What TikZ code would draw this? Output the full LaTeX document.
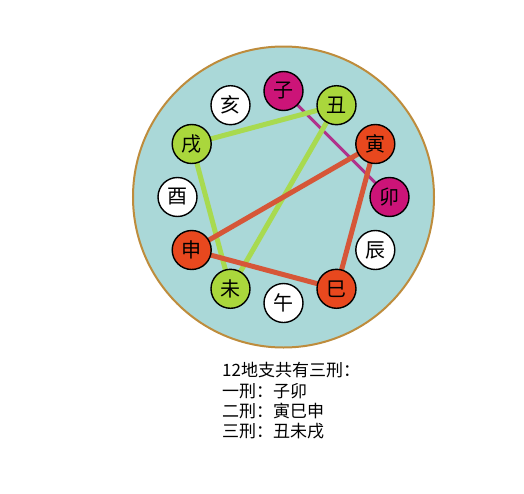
\documentclass[tikz,border=0pt]{standalone}
\usepackage{fontspec}
\newfontfamily\cjk{Noto Sans CJK SC}
\definecolor{bgfill}{RGB}{170,216,216}
\definecolor{bgedge}{RGB}{190,140,60}
\definecolor{magfill}{RGB}{204,20,120}
\definecolor{grnfill}{RGB}{170,215,60}
\definecolor{redfill}{RGB}{232,72,30}
\definecolor{grnline}{RGB}{168,218,80}
\definecolor{redline}{RGB}{214,86,56}
\definecolor{magline}{RGB}{176,50,140}
\tikzset{
  branch/.style={circle,draw=black,line width=1.4pt,minimum size=39pt,inner sep=0pt,font=\cjk\fontsize{20}{20}\selectfont},
  wbranch/.style={branch,fill=white},
  mbranch/.style={branch,fill=magfill},
  gbranch/.style={branch,fill=grnfill},
  rbranch/.style={branch,fill=redfill},
  gl/.style={grnline,line width=5pt},
  rl/.style={redline,line width=5pt},
  ml/.style={magline,line width=3pt},
  caption/.style={anchor=base west,inner sep=0pt,font=\cjk\fontsize{17}{17}\selectfont}
}
\begin{document}
\begin{tikzpicture}[x=1pt,y=1pt]
\useasboundingbox (-283.5,-296) rectangle (240.5,197);
\fill[white] (-283.5,-296) rectangle (240.5,197);
\draw[bgedge,fill=bgfill,line width=2pt] (0,0) circle (150.5);
\coordinate (c) at (0,0);
\path (90:106) coordinate (pzi) (60:106) coordinate (pchou) (30:106) coordinate (pyin)
  (0:106) coordinate (pmao) (-30:106) coordinate (pchen) (-60:106) coordinate (psi)
  (-90:106) coordinate (pwu) (-120:106) coordinate (pwei) (-150:106) coordinate (pshen)
  (180:106) coordinate (pyou) (150:106) coordinate (pxu) (120:106) coordinate (phai);
% connectors (behind circles)
\draw[ml] (pzi) -- (pmao);
\draw[gl] (pchou) -- (pxu);
\draw[gl] (pchou) -- (pwei);
\draw[gl] (pxu) -- (pwei);
\draw[rl] (pyin) -- (pshen);
\draw[rl] (pshen) -- (psi);
\draw[rl] (psi) -- (pyin);
% branches
\node[mbranch] (zi) at (pzi) {子};
\node[gbranch] (chou) at (pchou) {丑};
\node[rbranch] (yin) at (pyin) {寅};
\node[mbranch] (mao) at (pmao) {卯};
\node[wbranch] (chen) at (pchen) {辰};
\node[rbranch] (si) at (psi) {巳};
\node[wbranch] (wu) at (pwu) {午};
\node[gbranch] (wei) at (pwei) {未};
\node[rbranch] (shen) at (pshen) {申};
\node[wbranch] (you) at (pyou) {酉};
\node[gbranch] (xu) at (pxu) {戌};
\node[wbranch] (hai) at (phai) {亥};
% caption
\node[caption] (t1) at (-61.5,-179.5) {12地支共有三刑：};
\node[caption] (t2) at (-61.5,-200.5) {一刑：子卯};
\node[caption] (t3) at (-61.5,-220.5) {二刑：寅巳申};
\node[caption] (t4) at (-61.5,-240.5) {三刑：丑未戌};
\end{tikzpicture}
\end{document}
